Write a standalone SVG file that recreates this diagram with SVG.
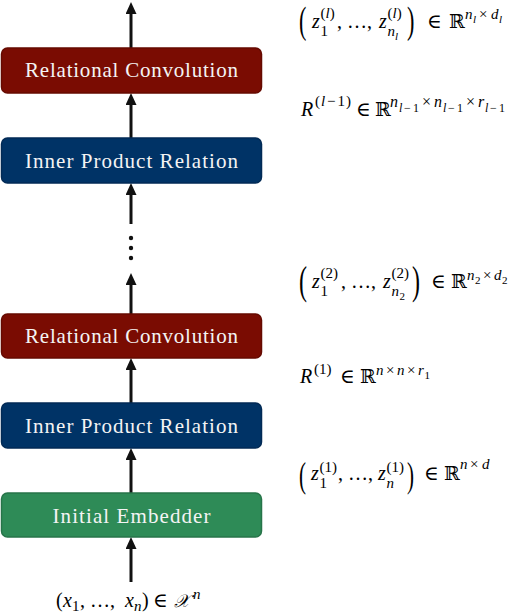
<svg xmlns="http://www.w3.org/2000/svg" width="524" height="616" viewBox="0 0 524 616">
<defs>
<style>
.bx{stroke-width:1.5}
.rc{fill:#7a0c02;stroke:#650a01}
.ip{fill:#003366;stroke:#022a55}
.ie{fill:#2e8b57;stroke:#277449}
.lbl{font-family:"Liberation Serif","DejaVu Serif",serif;font-size:21px;fill:#f4f4f4;text-anchor:middle}
.m{font-family:"Liberation Serif","DejaVu Serif","DejaVu Sans",serif;font-size:20px;font-style:italic;fill:#000}
.u{font-style:normal}
.s{font-size:15px}
.s2{font-size:16px}
.ss{font-size:11px}
.ss2{font-size:12px}
.bb{font-family:"DejaVu Serif","DejaVu Sans",serif;font-style:normal;font-size:19px}
.p{font-family:"Liberation Serif",serif;font-style:normal;fill:#000}
.ar{stroke:#111;stroke-width:3;fill:none;marker-end:url(#ah)}
</style>
<marker id="ah" viewBox="0 0 12 11" refX="0" refY="5.5" markerWidth="12" markerHeight="11" markerUnits="userSpaceOnUse" orient="auto">
<path d="M0,0 L12,5.5 L0,11 Z" fill="#111"/>
</marker>
</defs>
<rect width="524" height="616" fill="#fff"/>

<g id="connectors">
<path class="ar" d="M131,48 V14"/>
<path class="ar" d="M131,138 V105"/>
<path class="ar" d="M131,224 V195"/>
<path class="ar" d="M131,314 V285"/>
<path class="ar" d="M131,403 V370"/>
<path class="ar" d="M131,493 V460"/>
<path class="ar" d="M131,582 V549"/>
<circle cx="131" cy="238" r="2.2" fill="#111"/>
<circle cx="131" cy="248" r="2.2" fill="#111"/>
<circle cx="131" cy="258" r="2.2" fill="#111"/>
</g>

<g id="rc-top">
<rect class="bx rc" x="1.5" y="48" width="260" height="45" rx="6"/>
<text class="lbl" x="131.5" y="77" textLength="213" lengthAdjust="spacing">Relational Convolution</text>
</g>
<g id="ip-top">
<rect class="bx ip" x="1.5" y="138" width="260" height="45" rx="6"/>
<text class="lbl" x="131.5" y="167.5" textLength="213" lengthAdjust="spacing">Inner Product Relation</text>
</g>
<g id="rc-2">
<rect class="bx rc" x="1.5" y="314" width="260" height="44" rx="6"/>
<text class="lbl" x="131.5" y="343" textLength="213" lengthAdjust="spacing">Relational Convolution</text>
</g>
<g id="ip-1">
<rect class="bx ip" x="1.5" y="403" width="260" height="45" rx="6"/>
<text class="lbl" x="131.5" y="432.5" textLength="213" lengthAdjust="spacing">Inner Product Relation</text>
</g>
<g id="embedder">
<rect class="bx ie" x="1.5" y="493" width="260" height="44" rx="6"/>
<text class="lbl" x="131.5" y="522.5" textLength="158" lengthAdjust="spacing">Initial Embedder</text>
</g>

<g id="label-zl">
<text class="p" font-size="37" transform="translate(299,33) scale(0.6,1)">(</text>
<text class="m"><tspan x="312" y="28">z</tspan><tspan class="s u" x="320.5" y="36">1</tspan><tspan class="s u" x="320.5" y="18">(</tspan><tspan class="s">l</tspan><tspan class="s u">)</tspan><tspan class="u" x="337" y="28">, …,</tspan><tspan x="379" y="28">z</tspan><tspan class="s" x="387.5" y="36">n</tspan><tspan class="ss" x="395" y="40">l</tspan><tspan class="s u" x="387.5" y="18">(</tspan><tspan class="s">l</tspan><tspan class="s u">)</tspan></text>
<text class="p" font-size="37" transform="translate(407,33) scale(0.6,1)">)</text>
<text class="m"><tspan class="u" x="427" y="28">∈</tspan><tspan class="bb" x="449" y="28">ℝ</tspan><tspan class="s" x="465" y="19">n</tspan><tspan class="ss" x="473" y="23">l</tspan><tspan class="s u" x="479" y="19">×</tspan><tspan class="s" x="491" y="19">d</tspan><tspan class="ss" x="499" y="23">l</tspan></text>
</g>

<g id="label-rl">
<text class="m"><tspan x="301" y="116">R</tspan><tspan class="s u" x="315" y="106">(</tspan><tspan class="s" x="321" y="106">l</tspan><tspan class="s u" x="327" y="106">−</tspan><tspan class="s u" x="337.5" y="106">1</tspan><tspan class="s u" x="346" y="106">)</tspan><tspan class="u" x="356" y="116">∈</tspan><tspan class="bb" x="375" y="116">ℝ</tspan><tspan class="s2" x="390" y="107">n</tspan><tspan class="ss2" x="399" y="112">l</tspan><tspan class="ss2 u" x="404" y="112">−</tspan><tspan class="ss2 u" x="413" y="112">1</tspan><tspan class="s2 u" x="422" y="107">×</tspan><tspan class="s2" x="434" y="107">n</tspan><tspan class="ss2" x="443" y="112">l</tspan><tspan class="ss2 u" x="448" y="112">−</tspan><tspan class="ss2 u" x="457" y="112">1</tspan><tspan class="s2 u" x="466" y="107">×</tspan><tspan class="s2" x="478" y="107">r</tspan><tspan class="ss2" x="485" y="112">l</tspan><tspan class="ss2 u" x="490" y="112">−</tspan><tspan class="ss2 u" x="499" y="112">1</tspan></text>
</g>

<g id="label-z2">
<text class="p" font-size="40" transform="translate(299,294) scale(0.6,1)">(</text>
<text class="m"><tspan x="312" y="288">z</tspan><tspan class="s u" x="320.5" y="296">1</tspan><tspan class="s u" x="320.5" y="278">(2)</tspan><tspan class="u" x="341" y="288">, …,</tspan><tspan x="383" y="288">z</tspan><tspan class="s" x="391.5" y="296">n</tspan><tspan class="ss u" x="399.5" y="300">2</tspan><tspan class="s u" x="391.5" y="278">(2)</tspan></text>
<text class="p" font-size="40" transform="translate(412,294) scale(0.6,1)">)</text>
<text class="m"><tspan class="u" x="431" y="288">∈</tspan><tspan class="bb" x="451" y="288">ℝ</tspan><tspan class="s" x="467" y="280">n</tspan><tspan class="ss u" x="475" y="284">2</tspan><tspan class="s u" x="483" y="280">×</tspan><tspan class="s" x="494" y="280">d</tspan><tspan class="ss u" x="502" y="284">2</tspan></text>
</g>

<g id="label-r1">
<text class="m"><tspan x="300" y="383">R</tspan><tspan class="s u" x="314" y="374">(1)</tspan><tspan class="u" x="340" y="383">∈</tspan><tspan class="bb" x="360" y="383">ℝ</tspan><tspan class="s" x="376" y="375">n</tspan><tspan class="s u" x="386" y="375">×</tspan><tspan class="s" x="397" y="375">n</tspan><tspan class="s u" x="407" y="375">×</tspan><tspan class="s" x="418" y="375">r</tspan><tspan class="ss u" x="424.5" y="379">1</tspan></text>
</g>

<g id="label-z1">
<text class="p" font-size="35" transform="translate(299,487) scale(0.6,1)">(</text>
<text class="m"><tspan x="311" y="480">z</tspan><tspan class="s u" x="319.5" y="488">1</tspan><tspan class="s u" x="319.5" y="472">(1)</tspan><tspan class="u" x="338" y="480">, …,</tspan><tspan x="378" y="480">z</tspan><tspan class="s" x="386.5" y="488">n</tspan><tspan class="s u" x="386.5" y="472">(1)</tspan></text>
<text class="p" font-size="35" transform="translate(407,487) scale(0.6,1)">)</text>
<text class="m"><tspan class="u" x="424" y="480">∈</tspan><tspan class="bb" x="444" y="480">ℝ</tspan><tspan class="s" x="460" y="469">n</tspan><tspan class="s u" x="470" y="469">×</tspan><tspan class="s" x="482" y="469">d</tspan></text>
</g>

<g id="label-input">
<text class="m"><tspan class="u" x="56" y="607">(</tspan><tspan x="63" y="607">x</tspan><tspan class="s u" x="72" y="611">1</tspan><tspan class="u" x="80" y="607">, …,</tspan><tspan x="125" y="607">x</tspan><tspan class="s" x="134" y="611">n</tspan><tspan class="u" x="142" y="607">)</tspan><tspan class="u" x="153" y="607">∈</tspan><tspan font-size="18" x="174" y="607">𝒳</tspan><tspan class="s" dx="4" dy="-8">n</tspan></text>
</g>
</svg>
